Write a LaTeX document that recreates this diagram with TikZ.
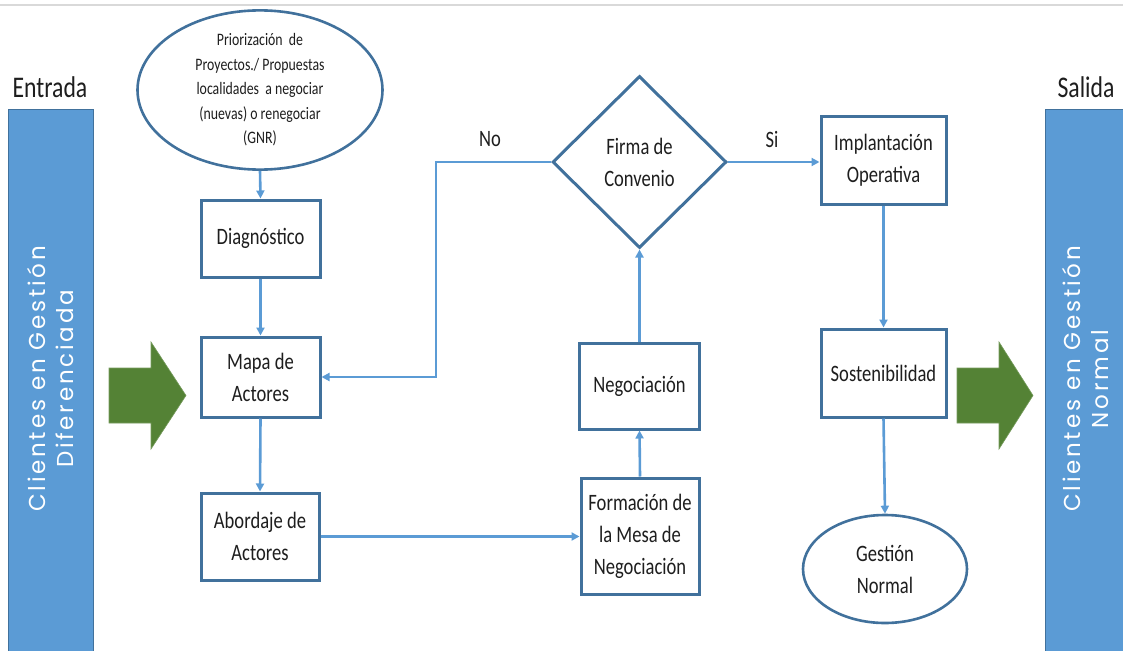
\documentclass[tikz,border=0pt]{standalone}
\usepackage{fontspec}
\setmainfont{Carlito}[FakeStretch=0.79]
\newfontfamily\barfont{Poppins}[LetterSpace=12]
\usetikzlibrary{arrows.meta,shapes.geometric}

\definecolor{boxline}{HTML}{41719C}
\definecolor{connblue}{HTML}{5B9BD5}
\definecolor{barfill}{HTML}{5B9BD5}
\definecolor{bigarrow}{HTML}{548235}
\definecolor{inktext}{HTML}{1E1E1E}
\definecolor{rulegray}{HTML}{D9D9D9}

\newcommand\boxtext{\fontsize{23.5}{32}\selectfont}
\newcommand\smalltext{\fontsize{17.5}{24.5}\selectfont}
\newcommand\headtext{\fontsize{30}{36}\selectfont}
\newcommand\bartext{\barfont\fontsize{23}{28}\selectfont}

\begin{document}
\begin{tikzpicture}[x=1pt,y=-1pt,
  stepbox/.style={draw=boxline, line width=3pt, fill=white, inner sep=0pt,
    align=center, text=inktext, font=\boxtext},
  oval/.style={ellipse, draw=boxline, line width=2.6pt, fill=white, inner sep=0pt,
    align=center, text=inktext},
  decision/.style={diamond, draw=boxline, line width=3pt, fill=white, inner sep=0pt,
    align=center, text=inktext, font=\boxtext},
  conn/.style={draw=connblue, line width=2.6pt,
    -{Triangle[length=8pt,width=8pt]}},
  barlabel/.style={rotate=90, align=center, text=white, font=\bartext, inner sep=0pt},
  greenarrow/.style={fill=bigarrow, draw=bigarrow!80!white, line width=0.6pt},
  tag/.style={text=inktext, font=\boxtext, inner sep=0pt}
]
\useasboundingbox (0,0) rectangle (1123,650);

% thin rule along the top
\draw[rulegray, line width=2pt] (0,5) -- (1123,5);

% input / output columns
\node[tag, font=\headtext] (entrada) at (50,87) {Entrada};
\node[tag, font=\headtext] (salida) at (1086,87) {Salida};
\draw[fill=barfill, draw=boxline, line width=1pt] (8,110) rectangle (93,651);
\draw[fill=barfill, draw=boxline, line width=1pt] (1045,110) rectangle (1125,651);
\node[barlabel] (inlabel) at (51,379) {Clientes en Gestión\\Diferenciada};
\node[barlabel] (outlabel) at (1086,379) {Clientes en Gestión\\Normal};

% big green arrows
\draw[greenarrow] (109,368) -- (151,368) -- (151,342) -- (186,395.5)
  -- (151,449) -- (151,423) -- (109,423) -- cycle;
\draw[greenarrow] (957,368) -- (999,368) -- (999,342) -- (1033,395.5)
  -- (999,449) -- (999,423) -- (957,423) -- cycle;

% process nodes
\node[oval, minimum width=245pt, minimum height=150pt, font=\smalltext] (prior) at (260,90)
  {Priorización~ de\\Proyectos./ Propuestas\\localidades~ a negociar\\(nuevas) o renegociar\\(GNR)};
\node[stepbox, minimum width=119pt, minimum height=77pt] (diag) at (260.5,238.5) {Diagnóstico};
\node[stepbox, minimum width=119pt, minimum height=80pt] (mapa) at (260.5,377) {Mapa de\\Actores};
\node[stepbox, minimum width=118pt, minimum height=87pt] (abord) at (260,536.5) {Abordaje de\\Actores};
\node[stepbox, minimum width=118pt, minimum height=116pt] (mesa) at (640,536) {Formación de\\la Mesa de\\Negociación};
\node[stepbox, minimum width=120pt, minimum height=86pt] (nego) at (639.5,386) {Negociación};
\node[decision, minimum width=174pt, minimum height=172pt] (firma) at (639.5,162) {Firma de\\Convenio};
\node[stepbox, minimum width=125pt, minimum height=87pt] (impl) at (883.5,160.5) {Implantación\\Operativa};
\node[stepbox, minimum width=125pt, minimum height=88pt] (sost) at (883.5,373) {Sostenibilidad};
\node[oval, minimum width=164pt, minimum height=108pt, font=\boxtext] (gest) at (885,569) {Gestión\\Normal};

% decision labels
\node[tag] (nolabel) at (490,139) {No};
\node[tag] (silabel) at (772,139) {Si};

% connectors
\coordinate (noturn) at (436,377);
\draw[conn] (prior.south) -- (diag.north);
\draw[conn] (diag.south) -- (mapa.north);
\draw[conn] (mapa.south) -- (abord.north);
\draw[conn] (abord.east) -- (abord.east -| mesa.west);
\draw[conn] (mesa.north) -- (nego.south);
\draw[conn] (nego.north) -- (firma.south);
\draw[conn] (firma.west) -| (noturn) -- (mapa.east);
\draw[conn] (firma.east) -- (firma.east -| impl.west);
\draw[conn] (impl.south) -- (sost.north);
\draw[conn] (sost.south) -- (gest.north);
\end{tikzpicture}
\end{document}
